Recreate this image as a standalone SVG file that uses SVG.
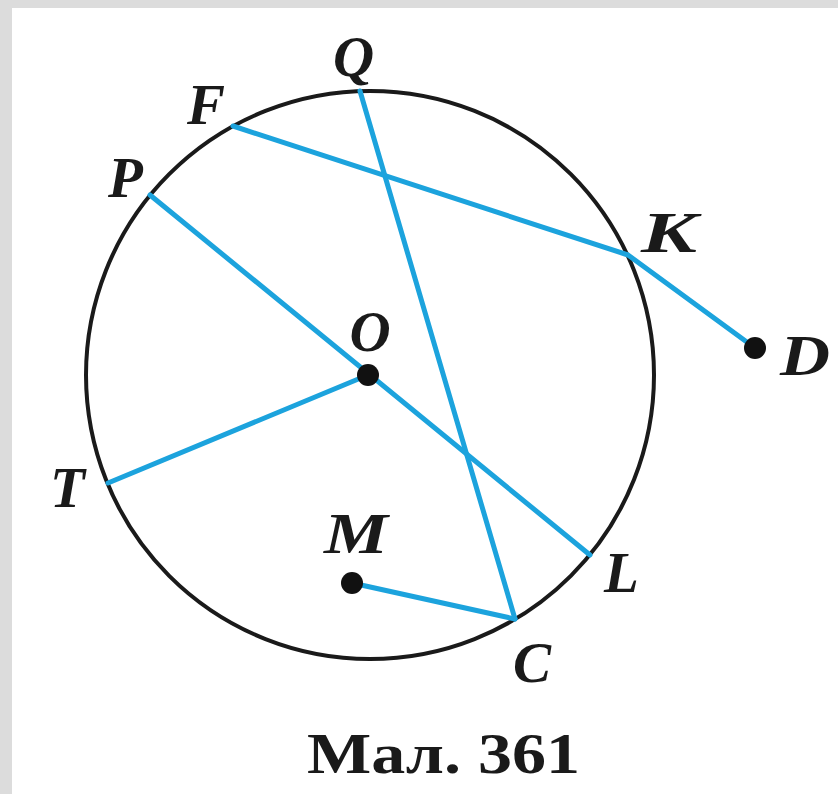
<svg xmlns="http://www.w3.org/2000/svg" width="838" height="794" viewBox="0 0 838 794">
<style>
.seg{stroke:#1ca3dd;stroke-width:5;fill:none;stroke-linecap:round;stroke-linejoin:round}
.lbl{font-family:"Liberation Serif","DejaVu Serif",serif;font-weight:bold;font-style:italic;font-size:57px;fill:#1a1a1a}
.cap{font-family:"Liberation Serif","DejaVu Serif",serif;font-weight:bold;font-size:56px;fill:#1a1a1a}
.dot{fill:#111}
</style>
<rect x="0" y="0" width="838" height="794" fill="#dcdcdc"/>
<rect x="12" y="8" width="826" height="786" fill="#ffffff"/>
<g id="circle">
<circle cx="370" cy="375" r="284" fill="none" stroke="#1a1a1a" stroke-width="4"/>
</g>
<g id="connectors">
<line class="seg" x1="360" y1="91" x2="515" y2="619"/>
<polyline class="seg" points="233,126 628,255 755,348"/>
<line class="seg" x1="150" y1="195" x2="590" y2="555"/>
<line class="seg" x1="108" y1="483" x2="368" y2="375"/>
<line class="seg" x1="352" y1="583" x2="515" y2="619"/>
</g>
<g id="O"><circle class="dot" cx="368" cy="375" r="11"/><text class="lbl" x="370" y="351" text-anchor="middle">O</text></g>
<g id="D"><circle class="dot" cx="755" cy="348" r="11"/><text class="lbl" x="780" y="375" textLength="50" lengthAdjust="spacingAndGlyphs">D</text></g>
<g id="M"><circle class="dot" cx="352" cy="583" r="11"/><text class="lbl" x="324" y="553" textLength="64" lengthAdjust="spacingAndGlyphs">M</text></g>
<g id="Q"><text class="lbl" x="333" y="76">Q</text></g>
<g id="F"><text class="lbl" x="187" y="124">F</text></g>
<g id="P"><text class="lbl" x="108" y="197">P</text></g>
<g id="K"><text class="lbl" x="641" y="252" textLength="56" lengthAdjust="spacingAndGlyphs">K</text></g>
<g id="T"><text class="lbl" x="50" y="507">T</text></g>
<g id="L"><text class="lbl" x="604" y="592">L</text></g>
<g id="C"><text class="lbl" x="513" y="682">C</text></g>
<g id="caption"><text class="cap" x="307" y="773" textLength="273" lengthAdjust="spacingAndGlyphs">Мал. 361</text></g>
</svg>
